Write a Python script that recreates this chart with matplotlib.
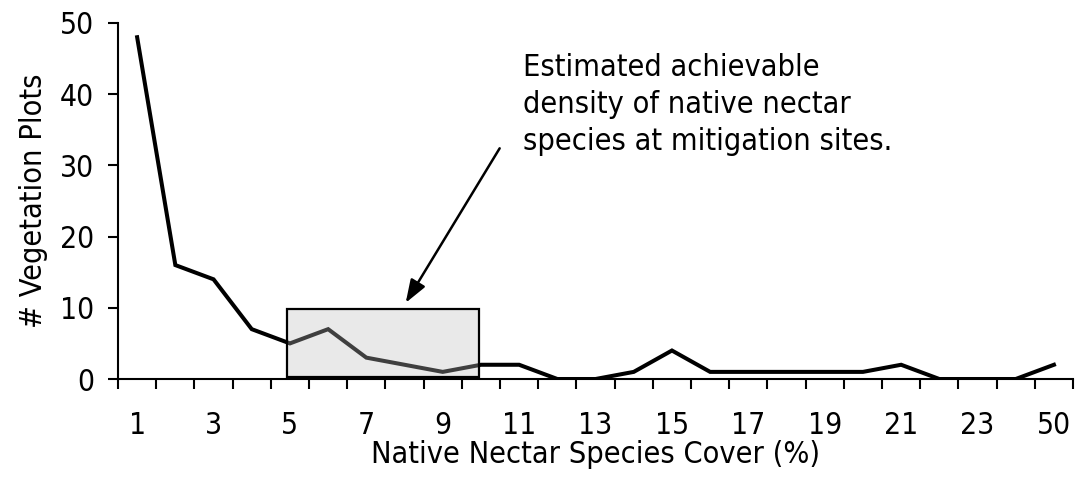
import matplotlib
matplotlib.use("Agg")
import matplotlib.pyplot as plt
from matplotlib.patches import Rectangle
from matplotlib import font_manager
import numpy as np

categories = [str(i) for i in range(1, 25)] + ["50"]
plot_counts = [48, 16, 14, 7, 5, 7, 3, 2, 1, 2, 2, 0, 0, 1, 4, 1, 1, 1, 1, 1, 2, 0, 0, 0, 2]
y_ticks = [0, 10, 20, 30, 40, 50]
x_label = "Native Nectar Species Cover (%)"
y_label = "# Vegetation Plots"
note = "Estimated achievable\ndensity of native nectar\nspecies at mitigation sites."
box_from, box_to, box_top = "5", "10", 9.8

plt.rcParams['font.family'] = ['DejaVu Sans']
has_cond = any('Condensed' in f.name or 'condensed' in str(f.stretch)
               for f in font_manager.fontManager.ttflist if 'DejaVu Sans' in f.name)
stretch = 'condensed' if has_cond else 'normal'
scale = 1.0 if has_cond else 0.9
plt.rcParams['font.stretch'] = stretch

fs_tick = 21.5 * scale
fs_lab = 22 * scale
fs_note = 22 * scale

fig = plt.figure(figsize=(10.78, 4.78), dpi=100)
ax = fig.add_axes([0.1095, 0.2071, 0.9954 - 0.1095, 0.9519 - 0.2071])

x = np.arange(len(categories))
ax.plot(x, plot_counts, color='black', lw=2.9, solid_joinstyle='miter', zorder=2)

x0 = categories.index(box_from) - 0.08
x1 = categories.index(box_to) - 0.06
ax.add_patch(Rectangle((x0, 0.3), x1 - x0, box_top - 0.3,
                       facecolor=(0.745, 0.745, 0.745, 0.337),
                       edgecolor='black', lw=1.6, zorder=3))

ax.annotate("", xy=(7.03, 10.7), xytext=(9.49, 32.4),
            arrowprops=dict(arrowstyle="-|>,head_length=1.4,head_width=0.5",
                            color='black', lw=1.8, shrinkA=0, shrinkB=0))
ax.text(10.09, 45.8, note, ha='left', va='top', fontsize=fs_note,
        linespacing=1.36, fontstretch=stretch)

ax.set_xlim(-0.5, len(categories) - 0.5)
ax.set_ylim(0, 50)
ax.set_yticks(y_ticks)
ax.set_xticks(x[::2])
ax.set_xticklabels(categories[::2])
ax.set_xticks(np.arange(-0.5, len(categories), 1.0), minor=True)

ax.tick_params(axis='x', which='major', length=0, pad=23, labelsize=fs_tick)
ax.tick_params(axis='x', which='minor', length=7.2, width=1.5, direction='out')
ax.tick_params(axis='y', length=7.2, width=1.5, pad=10, labelsize=fs_tick)

for s in ['top', 'right']:
    ax.spines[s].set_visible(False)
for s in ['left', 'bottom']:
    ax.spines[s].set_linewidth(1.5)

ax.set_xlabel(x_label, fontsize=fs_lab, labelpad=0)
ax.set_ylabel(y_label, fontsize=fs_lab, labelpad=9)

fig.savefig("out.png", dpi=100)
